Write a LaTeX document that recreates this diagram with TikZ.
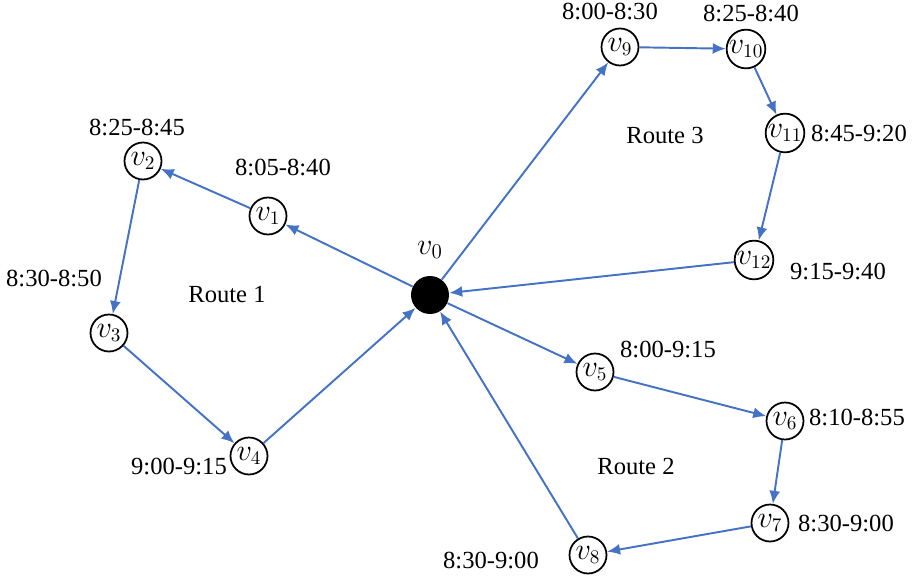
\documentclass[tikz,border=0pt]{standalone}
\usepackage{fontspec}
\setmainfont{Liberation Serif}
\usetikzlibrary{arrows.meta}
\definecolor{routeblue}{HTML}{4472C4}
\begin{document}
\begin{tikzpicture}[x=0.02cm,y=-0.02cm,
  vert/.style={circle,draw,line width=1pt,minimum size=0.74cm,inner sep=0pt,
    font=\fontsize{16}{18}\selectfont},
  depot/.style={circle,fill=black,minimum size=0.76cm,inner sep=0pt},
  route/.style={draw=routeblue,line width=1.1pt,-{Latex[length=2.6mm,width=2.2mm]}},
  tw/.style={font=\fontsize{14}{16}\selectfont},
  rname/.style={font=\fontsize{14}{16}\selectfont}]
\useasboundingbox (0,0) rectangle (917,585);
\node[depot] (v0) at (430,295) {};
\node at (430,250) {\fontsize{18}{20}\selectfont$v_0$};
\node[vert] (v1) at (268,216) {$v_1$};
\node[vert] (v2) at (143,161) {$v_2$};
\node[vert] (v3) at (109,333) {$v_3$};
\node[vert] (v4) at (249,456) {$v_4$};
\node[vert] (v5) at (595,372) {$v_5$};
\node[vert] (v6) at (785,421) {$v_6$};
\node[vert] (v7) at (770,523) {$v_7$};
\node[vert] (v8) at (588,555) {$v_8$};
\node[vert] (v9) at (620,47) {$v_9$};
\node[vert] (v10) at (746,49) {$v_{10}$};
\node[vert] (v11) at (785,133) {$v_{11}$};
\node[vert] (v12) at (754,260) {$v_{12}$};
% time windows
\node[tw] (t1) at (283,167) {8:05-8:40};
\node[tw] (t2) at (137,127) {8:25-8:45};
\node[tw] (t3) at (54,278) {8:30-8:50};
\node[tw] (t4) at (179,466) {9:00-9:15};
\node[tw] (t5) at (668,349) {8:00-9:15};
\node[tw] (t6) at (857,417) {8:10-8:55};
\node[tw] (t7) at (846,523) {8:30-9:00};
\node[tw] (t8) at (491,560) {8:30-9:00};
\node[tw] (t9) at (610,11) {8:00-8:30};
\node[tw] (t10) at (751,13) {8:25-8:40};
\node[tw] (t11) at (859,133) {8:45-9:20};
\node[tw] (t12) at (838,271) {9:15-9:40};
% routes
\node[rname] (r1) at (227,294) {Route 1};
\node[rname] (r2) at (636,466) {Route 2};
\node[rname] (r3) at (665,135) {Route 3};
\draw[route] (v0) -- (v1);
\draw[route] (v1) -- (v2);
\draw[route] (v2) -- (v3);
\draw[route] (v3) -- (v4);
\draw[route] (v4) -- (v0);
\draw[route] (v0) -- (v5);
\draw[route] (v5) -- (v6);
\draw[route] (v6) -- (v7);
\draw[route] (v7) -- (v8);
\draw[route] (v8) -- (v0);
\draw[route] (v0) -- (v9);
\draw[route] (v9) -- (v10);
\draw[route] (v10) -- (v11);
\draw[route] (v11) -- (v12);
\draw[route] (v12) -- (v0);
\end{tikzpicture}
\end{document}
